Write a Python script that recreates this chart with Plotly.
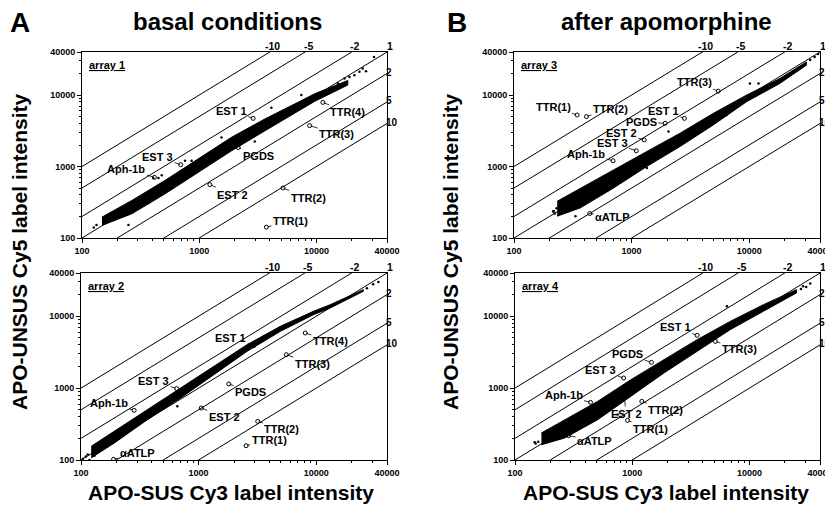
import math
import plotly.graph_objects as go

FONT = "Liberation Sans, Arial, sans-serif"

# ---------------- data ----------------
fold_labels = ["-10", "-5", "-2", "1", "2", "5", "10"]
fold_ratio = [10, 5, 2, 1, 0.5, 0.2, 0.1]          # Cy5 / Cy3
tick_vals = [100, 1000, 10000, 40000]
tick_text = ["100", "1000", "10000", "40000"]

# dense cloud outline for each array: x, lower y, upper y
a1_x = [148, 266, 512, 982, 1888, 3624, 6955, 9640, 13360, 18530]
a1_lo = [150, 218, 415, 830, 1660, 3150, 5950, 8150, 10600, 13800]
a1_hi = [196, 335, 640, 1280, 2570, 4620, 7900, 10400, 12900, 16000]
# scattered points outside the dense cloud
a1_sx = [126, 133, 15240, 17340, 19130, 21090, 23280, 24830, 4130, 757, 861, 449, 26500, 31000,
         1549, 406, 479, 249, 7430, 369, 2979]
a1_sy = [140, 152, 14490, 17020, 17950, 18920, 21090, 23440, 6650, 1205, 1205, 692, 21500, 34000,
         2541, 692, 753, 152, 10000, 310, 2239]

a2_x = [122, 192, 367, 703, 1349, 2583, 4955, 9480, 13150, 25180]
a2_lo = [107, 172, 364, 729, 1538, 3252, 6166, 10520, 13030, 22230]
a2_hi = [155, 251, 501, 1004, 2010, 4025, 7245, 11720, 14490, 23440]
a2_sx = [104, 110, 118, 27000, 30500, 33800, 1990, 659, 114, 130]
a2_sy = [104, 112, 100, 24500, 27800, 30000, 2626, 558, 119, 115]

a3_x = [233, 367, 703, 1349, 2583, 4955, 9480, 18190, 30600]
a3_lo = [202, 264, 501, 1004, 1905, 3818, 8050, 14490, 26110]
a3_hi = [327, 501, 902, 1625, 2924, 5546, 9970, 17020, 29040]
a3_sx = [215, 222, 230, 33000, 36000, 38500, 590, 12000, 10140, 6430, 2061, 1349, 333, 218]
a3_sy = [235, 220, 260, 31000, 34000, 37500, 590, 14500, 14490, 5260, 3085, 953, 202, 238]

a4_x = [168, 265, 508, 975, 1866, 3580, 6855, 13150, 25180]
a4_lo = [163, 202, 364, 769, 1625, 3252, 6510, 11720, 21090]
a4_hi = [238, 364, 655, 1313, 2490, 4725, 8490, 14490, 23440]
a4_sx = [150, 158, 27500, 30500, 33000, 6430, 2944, 752, 579, 147, 28700]
a4_sy = [170, 180, 24000, 25500, 28500, 13740, 3428, 428, 451, 176, 26100]

# labelled genes: name, Cy3, Cy5, label offset (px)
a1_genes = ["EST 1", "EST 3", "Aph-1b", "PGDS", "EST 2", "TTR(4)", "TTR(3)", "TTR(2)", "TTR(1)"]
a1_gx = [2884, 695, 415, 2148, 1233, 11350, 8750, 5190, 3740]
a1_gy = [4720, 1060, 706, 1845, 558, 7890, 3730, 501, 142]
a1_off = [(-22, -7), (-23, -8), (-28, -8), (20, 8), (23, 10), (25, 10), (27, 8), (25, 10), (24, -6)]

a2_genes = ["EST 1", "EST 3", "Aph-1b", "PGDS", "EST 2", "TTR(4)", "TTR(3)", "TTR(2)", "TTR(1)", "αATLP"]
a2_gx = [2944, 651, 283, 1807, 1054, 8070, 5570, 3183, 2535, 189]
a2_gy = [3900, 984, 491, 1143, 529, 5850, 2924, 345, 158, 102]
a2_off = [(-23, -8), (-23, -8), (-25, -7), (22, 8), (23, 9), (25, 8), (26, 9), (24, 8), (23, -6), (24, -6)]

a3_genes = ["TTR(1)", "TTR(2)", "EST 1", "PGDS", "EST 2", "EST 3", "Aph-1b", "TTR(3)", "αATLP"]
a3_gx = [344, 413, 2812, 1928, 1279, 1096, 695, 5460, 441]
a3_gy = [5260, 4990, 4720, 4025, 2360, 1660, 1205, 11350, 220]
a3_off = [(-24, -8), (24, -8), (-21, -7), (-24, -1), (-23, -7), (-24, -8), (-27, -7), (-24, -9), (23, 3)]

a4_genes = ["EST 1", "PGDS", "EST 3", "Aph-1b", "EST 2", "TTR(2)", "TTR(1)", "TTR(3)", "αATLP"]
a4_gx = [3580, 1459, 845, 441, 855, 1208, 912, 5120, 287]
a4_gy = [5430, 2285, 1383, 634, 753, 655, 356, 4480, 218]
a4_off = [(-22, -8), (-24, -8), (-23, -8), (-27, -7), (2, 17), (24, 9), (23, 9), (24, 8), (26, 5)]

# page layout (the page body adds an 8 px offset)
OFF = 8
W, H = 833 - OFF, 513 - 2 * OFF


def px(x):
    return (x - OFF) / W


def py(y):
    return 1 - (y - OFF) / H


panels = [
    dict(name="array 1", x=a1_x, lo=a1_lo, hi=a1_hi, tx=a1_sx, ty=a1_sy,
         genes=a1_genes, gx=a1_gx, gy=a1_gy, off=a1_off,
         dx=[px(82), px(387)], dy=[py(238), py(52)]),
    dict(name="array 2", x=a2_x, lo=a2_lo, hi=a2_hi, tx=a2_sx, ty=a2_sy,
         genes=a2_genes, gx=a2_gx, gy=a2_gy, off=a2_off,
         dx=[px(81), px(387)], dy=[py(460), py(273)]),
    dict(name="array 3", x=a3_x, lo=a3_lo, hi=a3_hi, tx=a3_sx, ty=a3_sy,
         genes=a3_genes, gx=a3_gx, gy=a3_gy, off=a3_off,
         dx=[px(514), px(820)], dy=[py(238), py(52)]),
    dict(name="array 4", x=a4_x, lo=a4_lo, hi=a4_hi, tx=a4_sx, ty=a4_sy,
         genes=a4_genes, gx=a4_gx, gy=a4_gy, off=a4_off,
         dx=[px(515), px(820)], dy=[py(460), py(273)]),
]

fig = go.Figure()
annotations = []
minor_vals = [v * 10 ** d for d in (2, 3, 4) for v in range(2, 10) if v * 10 ** d <= 40000]
XMIN, XMAX = 100, 40000
small = dict(size=10.5, family=FONT, color="black")

for i, p in enumerate(panels):
    n = "" if i == 0 else str(i + 1)
    xa, ya = "x" + n, "y" + n
    # fold lines
    for lab, r in zip(fold_labels, fold_ratio):
        fig.add_trace(go.Scatter(x=[XMIN, XMAX], y=[XMIN * r, XMAX * r], mode="lines",
                                 line=dict(color="black", width=1), xaxis=xa, yaxis=ya,
                                 showlegend=False, hoverinfo="skip"))
        if r >= 1:
            annotations.append(dict(x=math.log10(XMAX / r), y=math.log10(XMAX), xref=xa, yref=ya,
                                    text="<b>%s</b>" % lab, showarrow=False, yshift=6, xshift=3,
                                    font=small))
        else:
            annotations.append(dict(x=math.log10(XMAX), y=math.log10(XMAX * r), xref=xa, yref=ya,
                                    text="<b>%s</b>" % lab, showarrow=False, xanchor="left",
                                    xshift=-2, yshift=1, borderpad=0,
                                    font=dict(size=10, family=FONT, color="black")))
    # dense cloud
    fig.add_trace(go.Scatter(x=p["x"] + p["x"][::-1], y=p["lo"] + p["hi"][::-1],
                             mode="lines", fill="toself", fillcolor="black",
                             line=dict(color="black", width=1),
                             xaxis=xa, yaxis=ya, showlegend=False, hoverinfo="skip"))
    fig.add_trace(go.Scatter(x=p["tx"], y=p["ty"], mode="markers",
                             marker=dict(color="black", size=2.5),
                             xaxis=xa, yaxis=ya, showlegend=False, hoverinfo="skip"))
    # labelled genes
    fig.add_trace(go.Scatter(x=p["gx"], y=p["gy"], mode="markers",
                             marker=dict(symbol="circle-open", color="black", size=4,
                                         line=dict(width=1)),
                             xaxis=xa, yaxis=ya, showlegend=False))
    for g, gx, gy, (ox, oy) in zip(p["genes"], p["gx"], p["gy"], p["off"]):
        annotations.append(dict(x=math.log10(gx), y=math.log10(gy), xref=xa, yref=ya,
                                text="<b>%s</b>" % g, showarrow=True, arrowhead=0,
                                arrowwidth=0.8, arrowcolor="black", ax=ox, ay=oy,
                                standoff=1, font=dict(size=11, family=FONT, color="black")))
    # array label
    annotations.append(dict(x=0.015, y=0.975, xref=xa + " domain", yref=ya + " domain",
                            text="<b><u>%s</u></b>" % p["name"], showarrow=False,
                            xanchor="left", yanchor="top",
                            font=dict(size=11, family=FONT, color="black")))
    axcommon = dict(type="log", range=[2, math.log10(40000)], showgrid=False, zeroline=False,
                    showline=True, linecolor="black", linewidth=1, mirror=True,
                    automargin=False,
                    ticks="outside", ticklen=4, tickcolor="black", tickwidth=1,
                    tickvals=tick_vals, ticktext=tick_text,
                    tickfont=dict(size=9, family=FONT, color="black", weight="bold"),
                    minor=dict(tickvals=minor_vals, ticks="outside", ticklen=2,
                               tickcolor="black", tickwidth=1))
    fig.layout["xaxis" + n] = dict(axcommon, domain=p["dx"], anchor=ya)
    fig.layout["yaxis" + n] = dict(axcommon, domain=p["dy"], anchor=xa)

# titles
big = dict(family=FONT, color="black")


def paper_text(x, y, text, size, angle=0):
    return dict(x=px(x), y=py(y), xref="paper", yref="paper", text=text,
                showarrow=False, xanchor="center", yanchor="middle", textangle=angle,
                borderpad=0, font=dict(size=size, **big))


annotations += [
    paper_text(20, 23, "<b>A</b>", 28),
    paper_text(457, 23, "<b>B</b>", 28),
    paper_text(227, 22, "<b>basal conditions</b>", 24),
    paper_text(666, 22, "<b>after apomorphine</b>", 24),
    paper_text(19, 252, "<b>APO-UNSUS Cy5 label intensity</b>", 21, -90),
    paper_text(450, 252, "<b>APO-UNSUS Cy5 label intensity</b>", 21, -90),
    paper_text(231, 492, "<b>APO-SUS Cy3 label intensity</b>", 21),
    paper_text(666, 492, "<b>APO-SUS Cy3 label intensity</b>", 21),
]

fig.update_layout(width=W, height=H, margin=dict(l=0, r=0, t=0, b=0),
                  plot_bgcolor="white", paper_bgcolor="white",
                  annotations=annotations, showlegend=False,
                  font=dict(family=FONT, color="black"))
fig.write_html("out.html")
